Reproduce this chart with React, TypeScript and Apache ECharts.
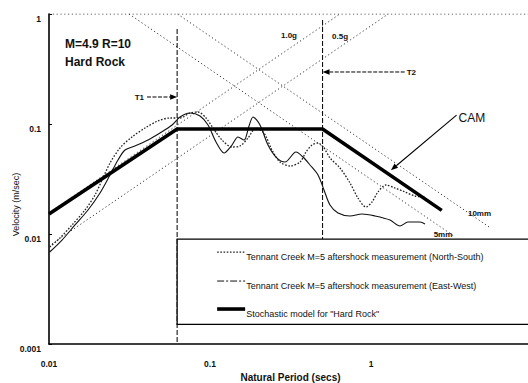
import React, { useEffect, useRef } from "react";
import * as echarts from "echarts";

// ---- axes ----
const periodTicks = [0.01, 0.1, 1, 10];
const periodTickLabels = ["0.01", "0.1", "1", ""];
const velocityTicks = [0.001, 0.01, 0.1, 1];
const velocityTickLabels = ["0.001", "0.01", "0.1", "1"];
const axisNames = ["Natural Period (secs)", "Velocity (m/sec)"];

// ---- corner periods ----
const T1 = 0.0625;
const T2 = 0.5;

// ---- stochastic model "Hard Rock" (CAM) ----
const camPeriod = [0.01, 0.0625, 0.5, 2.75];
const camVelocity = [0.0152, 0.09, 0.09, 0.0164];

// ---- Tennant Creek East-West (thin solid) ----
const ewPeriod = [0.0101, 0.01205, 0.01451, 0.01747, 0.02074, 0.02393, 0.02683, 0.02965, 0.0342, 0.0412, 0.0489, 0.0581, 0.0651, 0.0751, 0.0867, 0.0972, 0.109, 0.1222, 0.1369, 0.1493, 0.1626, 0.1747, 0.185, 0.2044, 0.2292, 0.257, 0.2922, 0.342, 0.378, 0.418, 0.4687, 0.5106, 0.5563, 0.6237, 0.7406, 0.8793, 1.059, 1.312, 1.514, 1.697, 2.015, 2.165];
const ewVelocity = [0.00686, 0.00881, 0.01208, 0.01652, 0.0236, 0.0344, 0.0471, 0.058, 0.0631, 0.0715, 0.0828, 0.0979, 0.1158, 0.1259, 0.1183, 0.0979, 0.0686, 0.0545, 0.0644, 0.0762, 0.0715, 0.0959, 0.1158, 0.0979, 0.0644, 0.0501, 0.0451, 0.0556, 0.0501, 0.0424, 0.0344, 0.0251, 0.01835, 0.01552, 0.01458, 0.0152, 0.01458, 0.0134, 0.01182, 0.01285, 0.01285, 0.01233];

// ---- Tennant Creek North-South (dotted) ----
const nsPeriod = [0.0101, 0.0117, 0.0139, 0.01673, 0.0193, 0.02164, 0.02393, 0.0276, 0.03277, 0.0395, 0.0475, 0.0564, 0.0651, 0.0751, 0.0842, 0.0945, 0.1044, 0.1187, 0.1369, 0.1536, 0.1722, 0.1931, 0.2164, 0.2427, 0.2721, 0.3141, 0.3623, 0.3947, 0.43, 0.4687, 0.5106, 0.5563, 0.642, 0.7406, 0.8305, 0.9309, 1.0144, 1.105, 1.239, 1.409, 1.626, 1.876, 2.165];
const nsVelocity = [0.00762, 0.0092, 0.01208, 0.01652, 0.02263, 0.0323, 0.0442, 0.0605, 0.0762, 0.092, 0.1065, 0.1134, 0.1134, 0.1259, 0.1285, 0.1134, 0.092, 0.0715, 0.0618, 0.0631, 0.0746, 0.092, 0.0828, 0.058, 0.0451, 0.0415, 0.0451, 0.0556, 0.0644, 0.0672, 0.0605, 0.0491, 0.0398, 0.0291, 0.0212, 0.0176, 0.01954, 0.0241, 0.0279, 0.0262, 0.0241, 0.02215, 0.0217];

// ---- constant acceleration / displacement guide lines (end points) ----
const acc10Period = [0.01, 0.641];
const acc10Velocity = [0.0156, 1];
const acc05Period = [0.01, 1.28];
const acc05Velocity = [0.0078, 1];
const disp10Period = [0.0628, 5.5];
const disp10Velocity = [1, 0.0114];
const disp5Period = [0.0314, 3.3];
const disp5Velocity = [1, 0.0095];

// ---- labels ----
const guideLabels = ["1.0g", "0.5g", "10mm", "5mm"];
const guideLabelPeriod = [0.276, 0.573, 4.0, 2.45];
const guideLabelVelocity = [0.644, 0.618, 0.0152, 0.0099];
const legendTexts = [
  "Tennant Creek M=5 aftershock measurement (North-South)",
  "Tennant Creek M=5 aftershock measurement (East-West)",
  'Stochastic model for "Hard Rock"',
];
const titleLines = ["M=4.9 R=10", "Hard Rock"];

const FONT = '"Liberation Sans", Arial, Helvetica, sans-serif';

const pairs = (xs: number[], ys: number[]) => xs.map((x, i) => [x, ys[i]]);

const tickLabel = (ticks: number[], labels: string[]) => (v: number) => {
  for (let i = 0; i < ticks.length; i++) {
    if (Math.abs(Math.log10(v) - Math.log10(ticks[i])) < 0.01) return labels[i];
  }
  return "";
};

export default function App() {
  const ref = useRef<HTMLDivElement>(null);
  useEffect(() => {
    if (!ref.current) return;
    const chart = echarts.init(ref.current, null, { renderer: "svg" });
    const guide = (name: string, xs: number[], ys: number[]) => ({
      type: "line",
      name,
      data: pairs(xs, ys),
      symbol: "none",
      silent: true,
      z: 1,
      lineStyle: { color: "#333", width: 1, type: [1.2, 2.6] },
    });
    chart.setOption({
      animation: false,
      backgroundColor: "#fff",
      grid: { left: 49, top: 14, width: 483, height: 330, show: false, outerBoundsMode: "none", containLabel: false },
      xAxis: {
        type: "log",
        logBase: 10,
        min: 0.01,
        max: 10,
        name: axisNames[0],
        nameLocation: "middle",
        nameGap: 28,
        nameTextStyle: { fontFamily: FONT, fontSize: 10, fontWeight: "bold", color: "#111" },
        axisLine: { show: true, lineStyle: { color: "#000", width: 1.6 } },
        axisTick: { show: false },
        minorTick: { show: false },
        splitLine: { show: false },
        axisLabel: {
          formatter: tickLabel(periodTicks, periodTickLabels),
          margin: 15,
          fontFamily: FONT,
          fontSize: 8.5,
          fontWeight: "bold",
          color: "#111",
        },
      },
      yAxis: {
        type: "log",
        logBase: 10,
        min: 0.001,
        max: 1,
        axisLine: { show: true, lineStyle: { color: "#000", width: 1.6 } },
        axisTick: { show: true, inside: true, length: 3, lineStyle: { color: "#000" } },
        splitLine: { show: false },
        axisLabel: {
          formatter: tickLabel(velocityTicks, velocityTickLabels),
          margin: 8,
          fontFamily: FONT,
          fontSize: 8.5,
          fontWeight: "bold",
          color: "#111",
          verticalAlign: "top",
        },
      },
      series: [
        guide("frame", [0.01, 10], [1, 1]),
        guide("1.0g", acc10Period, acc10Velocity),
        guide("0.5g", acc05Period, acc05Velocity),
        guide("10mm", disp10Period, disp10Velocity),
        guide("5mm", disp5Period, disp5Velocity),
        {
          type: "line",
          name: "T1",
          data: [[T1, 0.73], [T1, 0.001]],
          symbol: "none",
          z: 2,
          lineStyle: { color: "#111", width: 1.1, type: [5, 2] },
        },
        {
          type: "line",
          name: "T2",
          data: [[T2, 0.88], [T2, 0.0072]],
          symbol: "none",
          z: 2,
          lineStyle: { color: "#111", width: 1.1, type: [5, 2] },
        },
        {
          type: "line",
          name: legendTexts[0],
          data: pairs(nsPeriod, nsVelocity),
          symbol: "none",
          smooth: 0.3,
          z: 3,
          lineStyle: { color: "#222", width: 1.3, type: [1.6, 1.6] },
        },
        {
          type: "line",
          name: legendTexts[1],
          data: pairs(ewPeriod, ewVelocity),
          symbol: "none",
          smooth: 0.3,
          z: 3,
          lineStyle: { color: "#111", width: 1.1 },
        },
        {
          type: "line",
          name: legendTexts[2],
          data: pairs(camPeriod, camVelocity),
          symbol: "none",
          z: 4,
          lineStyle: { color: "#000", width: 3.6 },
        },
      ],
    });

    const px = (p: number[]) => chart.convertToPixel({ gridIndex: 0 }, p) as number[];
    const arrow = (from: number[], to: number[], width: number, dash?: number[]) => {
      const [x1, y1] = from;
      const [x2, y2] = to;
      const ang = Math.atan2(y2 - y1, x2 - x1);
      const L = 7, W = 2.8;
      const bx = x2 - L * Math.cos(ang), by = y2 - L * Math.sin(ang);
      const nx = -Math.sin(ang) * W, ny = Math.cos(ang) * W;
      return [
        { type: "line", z: 50, shape: { x1, y1, x2: bx, y2: by }, style: { stroke: "#000", lineWidth: width, lineDash: dash } },
        { type: "polygon", z: 50, shape: { points: [[x2, y2], [bx + nx, by + ny], [bx - nx, by - ny]] }, style: { fill: "#000" } },
      ];
    };
    const text = (t: string, p: number[], size: number, align: string, weight = "normal") => ({
      type: "text",
      z: 50,
      x: p[0],
      y: p[1],
      style: { text: t, fill: "#111", font: `${weight} ${size}px ${FONT}`, align, verticalAlign: "middle" },
    });

    const t1From = px([0.0406, 0.176]);
    const t1Tip = px([T1, 0.176]);
    const t2From = px([1.62, 0.297]);
    const t2Tip = px([T2, 0.297]);
    const camFrom = px([3.4, 0.1206]);
    const camTip = px([1.33, 0.038]);
    const titlePos = px([0.01257, 0.533]);
    const yNamePos = px([0.01, 0.0185]);

    const boxTL = px([T1, 0.009]);
    const boxBR = px([1, 0.00151]);
    const boxH = boxBR[1] - boxTL[1];
    const rowY = [boxTL[1] + 13, boxTL[1] + 42, boxTL[1] + 70];
    const sx1 = boxTL[0] + 40, sx2 = boxTL[0] + 68;

    const graphics: any[] = [
      {
        type: "text",
        z: 50,
        x: yNamePos[0] - 33,
        y: yNamePos[1],
        rotation: Math.PI / 2,
        style: { text: axisNames[1], fill: "#111", font: `normal 9px ${FONT}`, align: "center", verticalAlign: "middle" },
      },
      ...arrow(t1From, t1Tip, 1, [4, 1.5]),
      ...arrow(t2From, t2Tip, 1, [4, 1.5]),
      ...arrow(camFrom, camTip, 1.1),
      text("T1", [t1From[0] - 3, t1From[1] + 1], 8, "right", "bold"),
      text("T2", [t2From[0] + 2, t2From[1] + 1], 8, "left", "bold"),
      text("CAM", [camFrom[0] + 2, camFrom[1] + 3], 12, "left"),
      text(titleLines[0], [titlePos[0], titlePos[1]], 12, "left", "bold"),
      text(titleLines[1], [titlePos[0], titlePos[1] + 18], 12, "left", "bold"),
      ...guideLabels.map((g, i) => text(g, px([guideLabelPeriod[i], guideLabelVelocity[i]]), 8, "left", "bold")),
      {
        type: "rect",
        z: 60,
        shape: { x: boxTL[0], y: boxTL[1], width: 400, height: boxH },
        style: { fill: "#fff", stroke: "#000", lineWidth: 1.3 },
      },
      { type: "line", z: 61, shape: { x1: sx1, y1: rowY[0], x2: sx2, y2: rowY[0] }, style: { stroke: "#222", lineWidth: 1.2, lineDash: [1.6, 1.6] } },
      { type: "line", z: 61, shape: { x1: sx1, y1: rowY[1], x2: sx2, y2: rowY[1] }, style: { stroke: "#111", lineWidth: 1, lineDash: [7, 2, 2, 2] } },
      { type: "line", z: 61, shape: { x1: sx1, y1: rowY[2], x2: sx2, y2: rowY[2] }, style: { stroke: "#000", lineWidth: 3.6 } },
      ...legendTexts.map((t, i) => ({
        type: "text",
        z: 62,
        x: sx2 + 1,
        y: rowY[i] + 5,
        style: { text: t, fill: "#111", font: `normal 9px ${FONT}`, align: "left", verticalAlign: "middle" },
      })),
    ];
    chart.setOption({ graphic: graphics });
    return () => chart.dispose();
  }, []);
  return (
    <div
      ref={ref}
      style={{ position: "fixed", left: 0, top: 0, width: 528, height: 383, background: "#fff" }}
    />
  );
}
